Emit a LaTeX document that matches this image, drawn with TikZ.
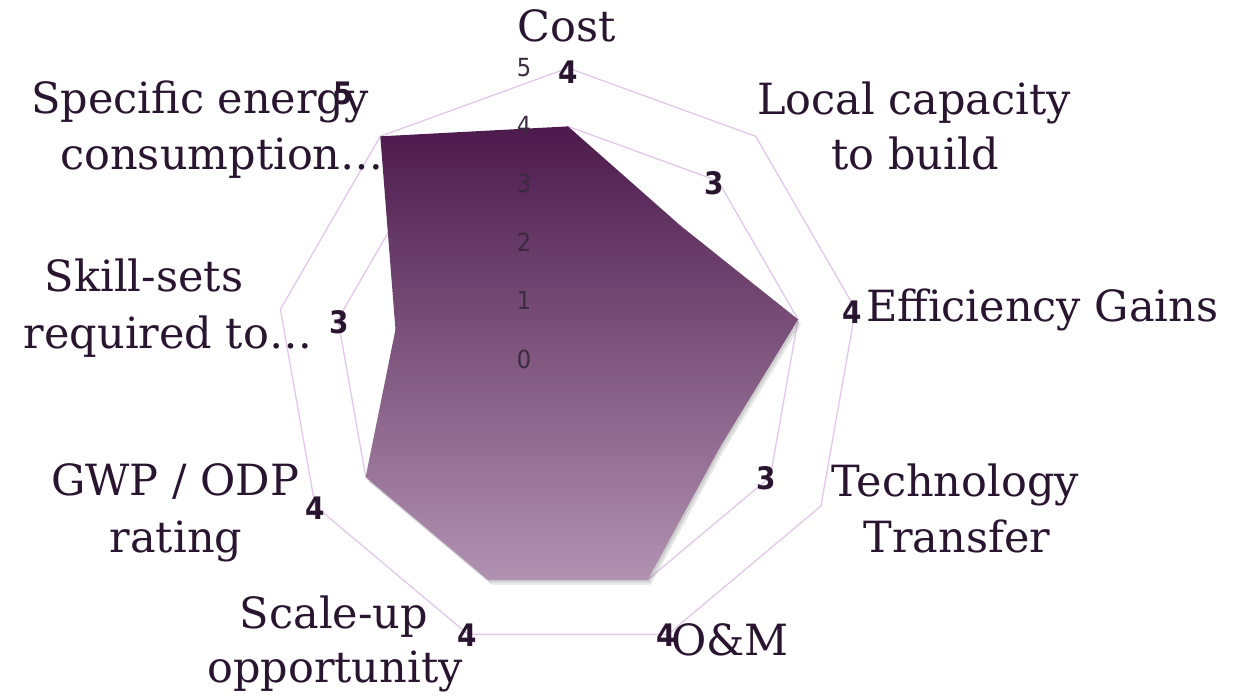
\documentclass[tikz,border=0pt]{standalone}
\usepackage{fontspec}
\setmainfont{DejaVu Serif}
\newfontfamily\valfont{DejaVu Sans Condensed}
\newfontfamily\scalefont{DejaVu Sans Condensed}
\usetikzlibrary{calc}
\definecolor{txt}{HTML}{2A1530}
\definecolor{ring}{HTML}{E2C8E8}
\definecolor{topc}{HTML}{4C1A4C}
\definecolor{botc}{HTML}{B192B1}
\def\cx{568}
\def\cy{360}
\def\u{58.4}
\tikzset{
  lbl/.style={font=\fontsize{43}{46}\selectfont, text=txt, inner sep=0pt, anchor=base},
  val/.style={font=\valfont\bfseries\fontsize{31}{33}\selectfont, text=txt, inner sep=0pt, anchor=base},
  scl/.style={font=\scalefont\fontsize{25}{27}\selectfont, text=txt!80!gray, inner sep=0pt, anchor=base},
  ringline/.style={draw=ring, line width=1.3pt}
}
\begin{document}
\begin{tikzpicture}[x=1pt,y=-1pt]
\useasboundingbox (0,0) rectangle (1248,696);
% rings
\foreach \k in {1,...,5}{
  \draw[ringline] ({\cx+\k*\u*sin(0)},{\cy-\k*\u*cos(0)})
    \foreach \a in {40,80,...,320}{ -- ({\cx+\k*\u*sin(\a)},{\cy-\k*\u*cos(\a)}) } -- cycle;
}
% data points
\foreach \n/\a/\v in {p0/0/4,p1/40/3,p2/80/4,p3/120/3,p4/160/4,p5/200/4,p6/240/4,p7/280/3,p8/320/5}{
  \coordinate (\n) at ({\cx+\v*\u*sin(\a)},{\cy-\v*\u*cos(\a)});
}
% shadow
\fill[black, opacity=0.10] ([shift={(3,5)}]p0) -- ([shift={(3,5)}]p1) -- ([shift={(3,5)}]p2) -- ([shift={(3,5)}]p3) -- ([shift={(3,5)}]p4) -- ([shift={(3,5)}]p5) -- ([shift={(3,5)}]p6) -- ([shift={(3,5)}]p7) -- ([shift={(3,5)}]p8) -- cycle;
\fill[black, opacity=0.10] ([shift={(1.5,2.5)}]p0) -- ([shift={(1.5,2.5)}]p1) -- ([shift={(1.5,2.5)}]p2) -- ([shift={(1.5,2.5)}]p3) -- ([shift={(1.5,2.5)}]p4) -- ([shift={(1.5,2.5)}]p5) -- ([shift={(1.5,2.5)}]p6) -- ([shift={(1.5,2.5)}]p7) -- ([shift={(1.5,2.5)}]p8) -- cycle;
% data polygon
\shade[top color=topc, bottom color=botc] (p0) -- (p1) -- (p2) -- (p3) -- (p4) -- (p5) -- (p6) -- (p7) -- (p8) -- cycle;
% scale labels
\foreach \k in {0,...,5}{
  \node[scl] (s\k) at (524,{\cy-\k*\u+8}) {\k};
}
% axis labels
\node[lbl] (cost) at (567,41) {Cost};
\node[lbl] (locA) at (914,114) {Local capacity};
\node[lbl] (locB) at (915,169) {to build};
\node[lbl, anchor=base west] (eff) at (866,321) {Efficiency Gains};
\node[lbl] (tecA) at (955,496) {Technology};
\node[lbl] (tecB) at (957,552) {Transfer};
\node[lbl, anchor=base west] (om) at (671,655) {O\&M};
\node[lbl] (scaA) at (334,628) {Scale-up};
\node[lbl] (scaB) at (335,682) {opportunity};
\node[lbl] (gwpA) at (175,495) {GWP / ODP};
\node[lbl] (gwpB) at (176,552) {rating};
\node[lbl] (sklA) at (144,291) {Skill-sets};
\node[lbl] (sklB) at (168,348) {required to…};
\node[lbl] (speA) at (200,113) {Specific energy};
\node[lbl] (speB) at (222,169) {consumption…};
% value labels
\node[val] (v0) at (568,83) {4};
\node[val] (v1) at (714,194) {3};
\node[val] (v2) at (852,323) {4};
\node[val] (v3) at (766,489) {3};
\node[val] (v4) at (666,646) {4};
\node[val] (v5) at (467,646) {4};
\node[val] (v6) at (315,519) {4};
\node[val] (v7) at (339,333) {3};
\node[val] (v8) at (343,104) {5};
\end{tikzpicture}
\end{document}
